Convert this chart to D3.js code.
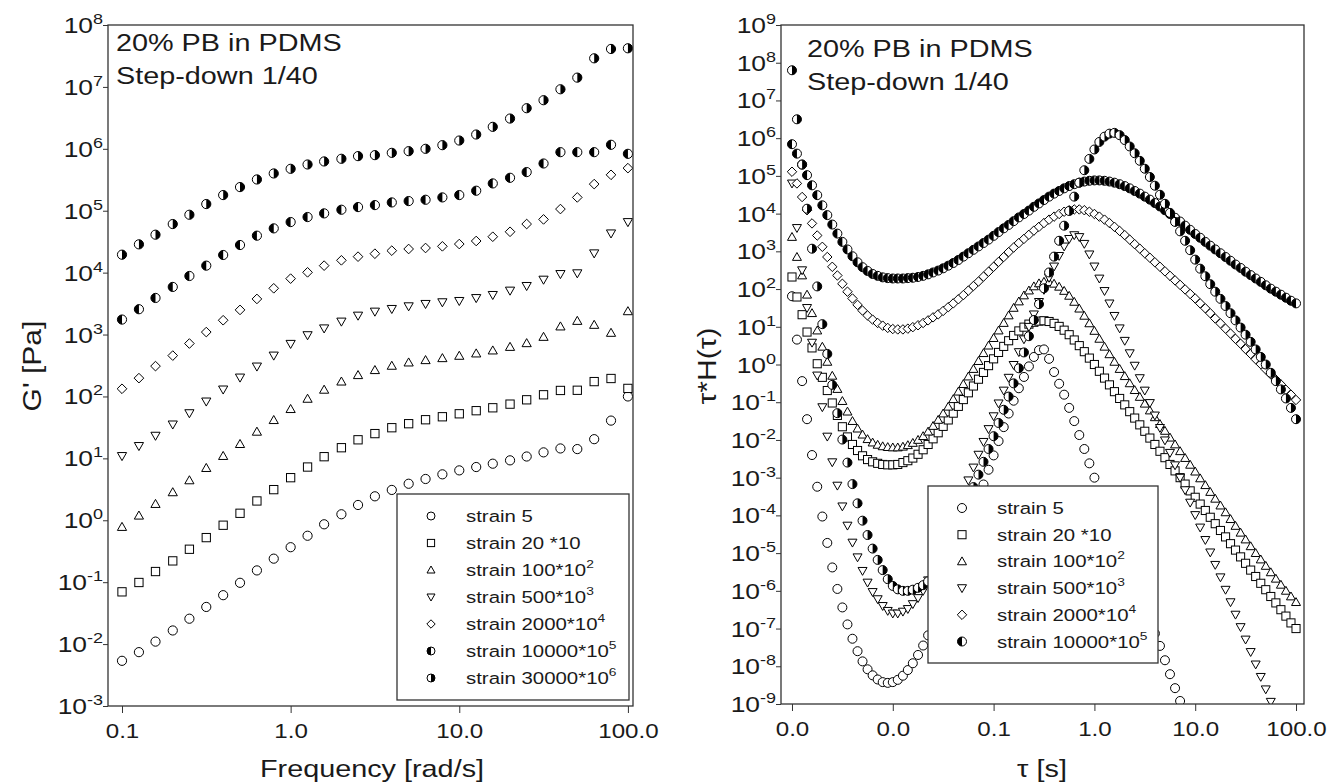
<!DOCTYPE html>
<html>
<head>
<meta charset="utf-8">
<script src="https://d3js.org/d3.v7.min.js"></script>
<style>
  body { margin: 0; background: #fff; }
  svg text { font-family: "Liberation Sans", Arial, sans-serif; fill: #1a1a1a; }
</style>
</head>
<body>
<svg id="chart" width="1328" height="783"></svg>
<script>
// ---- data: left panel, G' vs frequency (values are log10 G') ----
const freq = [0.1, 0.126, 0.158, 0.2, 0.251, 0.316, 0.398, 0.501, 0.631, 0.794,
  1, 1.26, 1.58, 2, 2.51, 3.16, 3.98, 5.01, 6.31, 7.94,
  10, 12.6, 15.8, 20, 25.1, 31.6, 39.8, 50.1, 63.1, 79.4, 100];

const logG_strain5 = [-2.27, -2.13, -1.96, -1.78, -1.59, -1.40, -1.21, -1.01, -0.81, -0.62,
  -0.435, -0.25, -0.065, 0.097, 0.247, 0.387, 0.49, 0.59, 0.667, 0.742,
  0.806, 0.86, 0.914, 0.968, 1.03, 1.097, 1.16, 1.15, 1.31, 1.61, 2.0];
const logG_strain20 = [-1.156, -1.005, -0.828, -0.656, -0.468, -0.28, -0.08, 0.113, 0.312, 0.495,
  0.688, 0.86, 1.027, 1.172, 1.30, 1.40, 1.495, 1.56, 1.624, 1.672,
  1.72, 1.77, 1.817, 1.876, 1.946, 2.027, 2.097, 2.10, 2.24, 2.29, 2.13];
const logG_strain100 = [-0.108, 0.075, 0.263, 0.452, 0.645, 0.844, 1.038, 1.231, 1.43, 1.618,
  1.796, 1.962, 2.108, 2.24, 2.344, 2.425, 2.495, 2.548, 2.586, 2.618,
  2.656, 2.694, 2.742, 2.80, 2.86, 2.962, 3.13, 3.22, 3.156, 3.027, 3.376];
const logG_strain500 = [1.038, 1.2, 1.366, 1.548, 1.73, 1.919, 2.113, 2.306, 2.484, 2.661,
  2.85, 2.99, 3.10, 3.21, 3.306, 3.371, 3.414, 3.457, 3.495, 3.522,
  3.543, 3.59, 3.64, 3.71, 3.785, 3.887, 3.978, 3.99, 4.312, 4.634, 4.817];
const logG_strain2000 = [2.124, 2.296, 2.49, 2.66, 2.855, 3.04, 3.231, 3.398, 3.575, 3.747,
  3.903, 4.005, 4.113, 4.199, 4.258, 4.306, 4.355, 4.382, 4.398, 4.425,
  4.462, 4.511, 4.58, 4.66, 4.785, 4.86, 5.027, 5.215, 5.43, 5.58, 5.688];
const logG_strain10000 = [3.242, 3.409, 3.591, 3.769, 3.946, 4.113, 4.285, 4.446, 4.597, 4.715,
  4.817, 4.898, 4.957, 5.016, 5.059, 5.091, 5.134, 5.156, 5.177, 5.215,
  5.253, 5.323, 5.441, 5.532, 5.624, 5.763, 5.946, 5.946, 5.946, 6.065, 5.919];
const logG_strain30000 = [4.29, 4.457, 4.613, 4.785, 4.935, 5.108, 5.253, 5.382, 5.505, 5.602,
  5.677, 5.747, 5.796, 5.839, 5.882, 5.898, 5.935, 5.962, 6.0, 6.059,
  6.134, 6.231, 6.355, 6.489, 6.656, 6.785, 6.962, 7.15, 7.462, 7.613, 7.624];

// ---- data: right panel, tau*H(tau) vs tau (log10 values, null = below the axis) ----
const tau = [0.001, 0.00112, 0.00126, 0.00141, 0.00158, 0.00178, 0.002, 0.00224, 0.00251, 0.00282,
  0.00316, 0.00355, 0.00398, 0.00447, 0.00501, 0.00562, 0.00631, 0.00708, 0.00794, 0.00891,
  0.01, 0.0112, 0.0126, 0.0141, 0.0158, 0.0178, 0.02, 0.0224, 0.0251, 0.0282,
  0.0316, 0.0355, 0.0398, 0.0447, 0.0501, 0.0562, 0.0631, 0.0708, 0.0794, 0.0891,
  0.1, 0.112, 0.126, 0.141, 0.158, 0.178, 0.2, 0.224, 0.251, 0.282,
  0.316, 0.355, 0.398, 0.447, 0.501, 0.562, 0.631, 0.708, 0.794, 0.891,
  1, 1.12, 1.26, 1.41, 1.58, 1.78, 2, 2.24, 2.51, 2.82,
  3.16, 3.55, 3.98, 4.47, 5.01, 5.62, 6.31, 7.08, 7.94, 8.91,
  10, 11.2, 12.6, 14.1, 15.8, 17.8, 20, 22.4, 25.1, 28.2,
  31.6, 35.5, 39.8, 44.7, 50.1, 56.2, 63.1, 70.8, 79.4, 89.1, 100];

const logH_strain5 = [1.81, 0.66, -0.44, -1.45, -2.4, -3.24, -4.03, -4.73, -5.38, -5.95,
  -6.44, -6.89, -7.27, -7.6, -7.87, -8.08, -8.24, -8.35, -8.42, -8.44,
  -8.42, -8.36, -8.25, -8.1, -7.92, -7.7, -7.45, -7.18, -6.88, -6.56,
  -6.22, -5.87, -5.5, -5.12, -4.74, -4.35, -3.96, -3.57, -3.18, -2.79,
  -2.41, -2.03, -1.66, -1.3, -0.96, -0.63, -0.33, -0.05, 0.2, 0.38,
  0.4, 0.15, -0.2, -0.51, -0.8, -1.15, -1.5, -1.87, -2.24, -2.62,
  -3.0, -3.36, -3.72, -4.07, -4.42, -4.77, -5.11, -5.45, -5.8, -6.13,
  -6.47, -6.8, -7.13, -7.46, -7.84, -8.21, -8.58, -8.92, null, null,
  null, null, null, null, null, null, null, null, null, null,
  null, null, null, null, null, null, null, null, null, null, null];
const logH_strain20 = [2.32, 1.79, 1.32, 0.86, 0.44, 0.02, -0.34, -0.69, -1.02, -1.35,
  -1.65, -1.92, -2.12, -2.28, -2.42, -2.52, -2.58, -2.62, -2.65, -2.66,
  -2.66, -2.65, -2.6, -2.55, -2.48, -2.38, -2.26, -2.12, -1.97, -1.81,
  -1.64, -1.47, -1.29, -1.11, -0.93, -0.75, -0.57, -0.39, -0.21, -0.03,
  0.15, 0.32, 0.48, 0.63, 0.77, 0.89, 0.99, 1.07, 1.12, 1.15,
  1.16, 1.14, 1.09, 1.01, 0.91, 0.79, 0.65, 0.5, 0.34, 0.17,
  0.0, -0.18, -0.36, -0.54, -0.72, -0.9, -1.07, -1.25, -1.42, -1.6,
  -1.77, -1.95, -2.12, -2.3, -2.47, -2.65, -2.82, -3.0, -3.17, -3.35,
  -3.52, -3.7, -3.87, -4.05, -4.22, -4.4, -4.57, -4.75, -4.92, -5.1,
  -5.27, -5.45, -5.62, -5.8, -5.97, -6.15, -6.32, -6.5, -6.67, -6.85, -7.0];
const logH_strain100 = [3.38, 2.85, 2.36, 1.85, 1.36, 0.9, 0.47, 0.07, -0.3, -0.65,
  -0.97, -1.25, -1.5, -1.7, -1.86, -1.98, -2.07, -2.13, -2.17, -2.19,
  -2.2, -2.2, -2.18, -2.14, -2.08, -2.0, -1.9, -1.78, -1.63, -1.47,
  -1.3, -1.12, -0.92, -0.72, -0.52, -0.32, -0.12, 0.09, 0.3, 0.5,
  0.7, 0.9, 1.1, 1.3, 1.5, 1.67, 1.83, 1.96, 2.07, 2.15,
  2.19, 2.18, 2.14, 2.06, 1.95, 1.82, 1.66, 1.48, 1.29, 1.09,
  0.89, 0.68, 0.47, 0.27, 0.07, -0.12, -0.31, -0.5, -0.68, -0.86,
  -1.04, -1.22, -1.4, -1.58, -1.76, -1.94, -2.12, -2.3, -2.48, -2.66,
  -2.84, -3.02, -3.2, -3.38, -3.56, -3.74, -3.92, -4.1, -4.28, -4.46,
  -4.64, -4.82, -5.0, -5.17, -5.34, -5.51, -5.68, -5.84, -6.0, -6.15, -6.3];
const logH_strain500 = [4.8, 3.62, 2.5, 1.5, 0.58, -0.29, -1.13, -1.91, -2.59, -3.21,
  -3.76, -4.27, -4.72, -5.11, -5.47, -5.78, -6.03, -6.22, -6.4, -6.53,
  -6.6, -6.6, -6.55, -6.48, -6.35, -6.19, -6.0, -5.72, -5.42, -5.1,
  -4.77, -4.43, -4.09, -3.75, -3.41, -3.07, -2.73, -2.39, -2.05, -1.71,
  -1.37, -1.03, -0.69, -0.35, -0.01, 0.33, 0.67, 1.0, 1.33, 1.66,
  1.98, 2.3, 2.6, 2.88, 3.13, 3.33, 3.43, 3.38, 3.2, 2.92,
  2.6, 2.28, 1.95, 1.62, 1.29, 0.96, 0.63, 0.3, -0.03, -0.36,
  -0.69, -1.02, -1.35, -1.68, -2.01, -2.34, -2.67, -3.0, -3.33, -3.66,
  -3.99, -4.32, -4.65, -4.98, -5.31, -5.64, -5.97, -6.3, -6.63, -6.96,
  -7.29, -7.62, -7.95, -8.28, -8.61, -8.94, null, null, null, null, null];
const logH_strain2000 = [5.11, 4.8, 4.44, 4.09, 3.74, 3.42, 3.12, 2.85, 2.59, 2.36,
  2.14, 1.93, 1.75, 1.58, 1.43, 1.3, 1.19, 1.1, 1.03, 0.97,
  0.94, 0.93, 0.93, 0.95, 0.99, 1.04, 1.1, 1.17, 1.25, 1.33,
  1.42, 1.52, 1.62, 1.73, 1.84, 1.96, 2.08, 2.2, 2.33, 2.46,
  2.59, 2.72, 2.85, 2.98, 3.1, 3.22, 3.33, 3.44, 3.55, 3.65,
  3.75, 3.84, 3.92, 3.99, 4.05, 4.09, 4.11, 4.11, 4.09, 4.05,
  3.99, 3.92, 3.84, 3.75, 3.65, 3.54, 3.43, 3.31, 3.19, 3.07,
  2.95, 2.83, 2.71, 2.59, 2.47, 2.35, 2.23, 2.11, 1.99, 1.87,
  1.75, 1.62, 1.49, 1.36, 1.22, 1.09, 0.95, 0.82, 0.68, 0.55,
  0.41, 0.28, 0.14, 0.01, -0.13, -0.26, -0.4, -0.53, -0.67, -0.8, -0.94];
const logH_strain10000 = [5.84, 5.59, 5.3, 5.02, 4.75, 4.49, 4.22, 3.96, 3.71, 3.47,
  3.25, 3.05, 2.87, 2.71, 2.58, 2.48, 2.4, 2.35, 2.31, 2.29,
  2.28, 2.28, 2.28, 2.29, 2.3, 2.32, 2.35, 2.39, 2.44, 2.49,
  2.55, 2.62, 2.69, 2.77, 2.86, 2.95, 3.04, 3.13, 3.22, 3.31,
  3.41, 3.51, 3.61, 3.7, 3.8, 3.9, 3.99, 4.08, 4.18, 4.27,
  4.36, 4.45, 4.53, 4.6, 4.67, 4.73, 4.78, 4.82, 4.85, 4.87,
  4.88, 4.88, 4.87, 4.85, 4.82, 4.78, 4.73, 4.67, 4.6, 4.53,
  4.45, 4.37, 4.28, 4.19, 4.09, 3.99, 3.89, 3.79, 3.68, 3.57,
  3.46, 3.36, 3.25, 3.15, 3.05, 2.95, 2.85, 2.75, 2.65, 2.56,
  2.46, 2.37, 2.28, 2.19, 2.1, 2.01, 1.93, 1.85, 1.77, 1.69, 1.62];
const logH_strain30000 = [7.8, 6.5, 5.3, 4.13, 3.07, 2.07, 1.07, 0.28, -0.54, -1.29,
  -1.99, -2.6, -3.17, -3.68, -4.14, -4.52, -4.88, -5.18, -5.45, -5.69,
  -5.87, -5.96, -6.0, -6.0, -5.97, -5.92, -5.85, -5.75, -5.6, -5.4,
  -5.15, -4.87, -4.57, -4.25, -3.92, -3.58, -3.25, -2.92, -2.58, -2.24,
  -1.9, -1.55, -1.2, -0.85, -0.5, -0.1, 0.32, 0.75, 1.18, 1.6,
  2.02, 2.44, 2.86, 3.28, 3.68, 4.07, 4.45, 4.82, 5.15, 5.45,
  5.7, 5.9, 6.04, 6.12, 6.14, 6.08, 5.95, 5.78, 5.6, 5.4,
  5.19, 4.97, 4.74, 4.5, 4.26, 4.02, 3.78, 3.53, 3.28, 3.03,
  2.78, 2.54, 2.34, 2.13, 1.93, 1.74, 1.55, 1.36, 1.17, 0.98,
  0.79, 0.6, 0.4, 0.2, 0.0, -0.22, -0.44, -0.66, -0.9, -1.15, -1.45];

// legend entries: label, superscript, marker
const leftSeries = [
  { name: "strain 5", sup: "", shape: "circle", vals: logG_strain5 },
  { name: "strain 20 *10", sup: "", shape: "square", vals: logG_strain20 },
  { name: "strain 100*10", sup: "2", shape: "triUp", vals: logG_strain100 },
  { name: "strain 500*10", sup: "3", shape: "triDown", vals: logG_strain500 },
  { name: "strain 2000*10", sup: "4", shape: "diamond", vals: logG_strain2000 },
  { name: "strain 10000*10", sup: "5", shape: "halfLeft", vals: logG_strain10000 },
  { name: "strain 30000*10", sup: "6", shape: "halfRight", vals: logG_strain30000 }
];
const rightSeries = [
  { name: "strain 5", sup: "", shape: "circle", vals: logH_strain5, legend: true },
  { name: "strain 20 *10", sup: "", shape: "square", vals: logH_strain20, legend: true },
  { name: "strain 100*10", sup: "2", shape: "triUp", vals: logH_strain100, legend: true },
  { name: "strain 500*10", sup: "3", shape: "triDown", vals: logH_strain500, legend: true },
  { name: "strain 2000*10", sup: "4", shape: "diamond", vals: logH_strain2000, legend: true },
  { name: "strain 10000*10", sup: "5", shape: "halfLeft", vals: logH_strain10000, legend: true },
  { name: "strain 30000*10", sup: "6", shape: "halfRight", vals: logH_strain30000, legend: false }
];

const STRETCH = 1.2;   // the original lettering is wide
const svg = d3.select("#chart");

// markers
function drawMarker(g, shape, r) {
  const st = { fill: "#fff", stroke: "#000", sw: 1 };
  if (shape === "circle" || shape === "halfLeft" || shape === "halfRight") {
    g.append("circle").attr("r", r).attr("fill", st.fill).attr("stroke", st.stroke).attr("stroke-width", st.sw);
    if (shape !== "circle") {
      const sweep = shape === "halfRight" ? 1 : 0;
      g.append("path").attr("d", `M0,${-r}A${r},${r} 0 0,${sweep} 0,${r}Z`).attr("fill", "#000");
    }
  } else if (shape === "square") {
    const s = r * 0.9;
    g.append("rect").attr("x", -s).attr("y", -s).attr("width", 2 * s).attr("height", 2 * s)
      .attr("fill", st.fill).attr("stroke", st.stroke).attr("stroke-width", st.sw);
  } else {
    let d;
    if (shape === "triUp") d = `M0,${-r}L${r},${r * 0.75}L${-r},${r * 0.75}Z`;
    if (shape === "triDown") d = `M0,${r}L${r},${-r * 0.75}L${-r},${-r * 0.75}Z`;
    if (shape === "diamond") d = `M0,${-r * 1.05}L${r * 1.05},0L0,${r * 1.05}L${-r * 1.05},0Z`;
    g.append("path").attr("d", d).attr("fill", st.fill).attr("stroke", st.stroke).attr("stroke-width", st.sw);
  }
}

function wideText(parent, x, y, str, size, anchor, rotate) {
  const rot = rotate ? ` rotate(${rotate})` : "";
  return parent.append("text")
    .attr("transform", `translate(${x},${y})${rot} scale(${STRETCH},1)`)
    .attr("font-size", size)
    .attr("text-anchor", anchor || "start")
    .text(str);
}

function supText(parent, x, y, base, sup, size, supSize, anchor, rise) {
  const t = parent.append("text")
    .attr("transform", `translate(${x},${y}) scale(${STRETCH},1)`)
    .attr("font-size", size)
    .attr("text-anchor", anchor || "start");
  t.append("tspan").text(base);
  if (sup) t.append("tspan").attr("font-size", supSize).attr("dy", -(rise || size * 0.4)).text(sup);
  return t;
}

function drawPanel(cfg) {
  const { x, y, xTicks, yExps, series, id } = cfg;
  const [x0, x1] = x.range();
  const [y0, y1] = y.range();
  const g = svg.append("g");

  g.append("clipPath").attr("id", id).append("rect")
    .attr("x", x0).attr("y", y1).attr("width", x1 - x0).attr("height", y0 - y1);

  // bottom axis
  const ax = g.append("g").attr("transform", `translate(0,${y0})`)
    .call(d3.axisBottom(x).tickValues(xTicks).tickSize(7).tickPadding(10).tickFormat(d3.format(".1f")));
  ax.select(".domain").remove();
  ax.selectAll(".tick line").attr("stroke", "#333");
  ax.selectAll(".tick text").attr("font-size", 21).attr("fill", "#1a1a1a")
    .attr("font-family", "Liberation Sans, Arial, sans-serif")
    .attr("transform", "scale(1.15,1)");

  // left axis with 10^n labels
  const ay = g.append("g").attr("transform", `translate(${x0},0)`)
    .call(d3.axisLeft(y).tickValues(yExps.map(e => 10 ** e)).tickSize(5).tickFormat(""));
  ay.select(".domain").remove();
  ay.selectAll(".tick line").attr("stroke", "#333");
  yExps.forEach(e => supText(g, x0 - 5, y(10 ** e) + 8, "10", String(e), 22, 15, "end", 9));

  // points
  const plot = g.append("g").attr("clip-path", `url(#${id})`);
  series.forEach(s => {
    const pts = cfg.xs.map((xv, i) => ({ x: xv, v: s.vals[i] })).filter(d => d.v !== null);
    plot.append("g").selectAll("g").data(pts).join("g")
      .attr("transform", d => `translate(${x(d.x)},${y(10 ** d.v)})`)
      .each(function () { drawMarker(d3.select(this), s.shape, cfg.r); });
  });

  // frame
  g.append("rect").attr("x", x0).attr("y", y1).attr("width", x1 - x0).attr("height", y0 - y1)
    .attr("fill", "none").attr("stroke", "#333").attr("stroke-width", 1.3);

  // annotation
  wideText(g, cfg.note[0], cfg.note[1], "20% PB in PDMS", 24);
  wideText(g, cfg.note[0], cfg.note[1] + 33, "Step-down 1/40", 24);

  // legend
  const L = cfg.legend;
  const entries = series.filter(s => s.legend !== false);
  g.append("rect").attr("x", L.x).attr("y", L.y).attr("width", L.w).attr("height", L.h)
    .attr("fill", "#fff").attr("stroke", "#333").attr("stroke-width", 1.3);
  entries.forEach((s, i) => {
    const cy = L.row0 + i * L.step;
    const mg = g.append("g").attr("transform", `translate(${L.sx},${cy})`);
    drawMarker(mg, s.shape, L.r);
    supText(g, L.tx, cy + 6, s.name, s.sup, 17, 11.5, "start", 8);
  });
  return g;
}

// left panel
const xL = d3.scaleLog().domain([0.0826, 107.2]).range([108, 633]);
const yL = d3.scaleLog().domain([1e-3, 1e8]).range([706, 25]);
drawPanel({
  id: "clipL", x: xL, y: yL, xs: freq, r: 4.6,
  xTicks: [0.1, 1, 10, 100], yExps: d3.range(-3, 9),
  series: leftSeries,
  note: [116, 51],
  legend: { x: 397, y: 494, w: 232, h: 206, sx: 431, tx: 466, row0: 516, step: 27, r: 4 }
});
wideText(svg, 372, 777, "Frequency [rad/s]", 24, "middle");
wideText(svg, 41, 366, "G' [Pa]", 25, "middle", -90);

// right panel
const xR = d3.scaleLog().domain([0.000778, 120]).range([781, 1304]);
const yR = d3.scaleLog().domain([1e-9, 1e9]).range([704, 25]);
drawPanel({
  id: "clipR", x: xR, y: yR, xs: tau, r: 4.5,
  xTicks: [0.001, 0.01, 0.1, 1, 10, 100], yExps: d3.range(-9, 10),
  series: rightSeries,
  note: [807, 57],
  legend: { x: 928, y: 486, w: 230, h: 177, sx: 962, tx: 997, row0: 508, step: 26.7, r: 4.5 }
});
wideText(svg, 1042, 777, "\u03c4 [s]", 24, "middle");
const yt = svg.append("text")
  .attr("transform", `translate(716,366) rotate(-90) scale(${STRETCH},1)`)
  .attr("font-size", 25).attr("text-anchor", "middle");
yt.append("tspan").text("\u03c4*H(\u03c4)");
</script>
</body>
</html>
